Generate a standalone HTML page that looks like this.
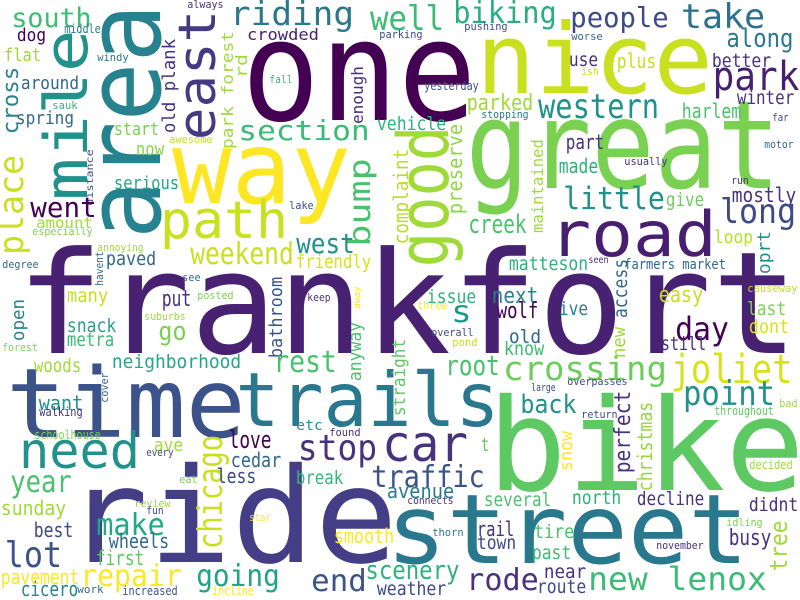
<!DOCTYPE html>
<html><head><meta charset="utf-8"><style>
html,body{margin:0;padding:0;background:#fff;}
svg{display:block;}
text{font-family:"DejaVu Sans Mono","Liberation Mono",monospace;}
</style></head><body>
<svg id="cloud" width="800" height="600" viewBox="0 0 800 600" xmlns="http://www.w3.org/2000/svg">
<rect width="800" height="600" fill="#ffffff"/>
</svg>
<script>
// [text, x, baselineY, fontSize, width, color, vertical]
const words = [
["frankfort",25,353,142,765,"#482173",0],
["one",250,120,140,218,"#440154",0],
["nice",482,93,97,225,"#c8e020",0],
["great",473,188,122,300,"#7ad151",0],
["way",178,203,100,167,"#fde725",0],
["bike",495,490,128,302,"#5ec962",0],
["ride",73,562,132,317,"#433e85",0],
["street",392,563,96,351,"#2a788e",0],
["time",12,437,96,228,"#3b528b",0],
["trails",240,426,75,255,"#2a788e",0],
["road",553,256,62,160,"#481f70",0],
["path",163,238,52,122,"#c8e020",0],
["area",160,233,104,223,"#26828e",1],
["mile",87,197,60,164,"#21918c",1],
["east",215,137,52,124,"#443983",1],
["good",448,263,70,133,"#a0da39",1],
["car",385,461,50,80,"#46327e",0],
["need",22,468,50,115,"#21918c",0],
["stop",300,460,36,75,"#46327e",0],
["south",13,27,27,77,"#3dbc74",0],
["dog",18,41,18,27,"#440154",0],
["middle",65,33,12,35,"#2a788e",0],
["always",188,8,11,35,"#46327e",0],
["flat",5,61,18,35,"#a0da39",0],
["windy",98,61,11,30,"#2a788e",0],
["cross",18,133,22,65,"#26828e",1],
["place",23,253,34,96,"#c8e020",1],
["around",22,89,18,56,"#31688e",0],
["sauk",53,109,11,24,"#35b779",0],
["spring",17,124,18,56,"#31688e",0],
["start",115,135,18,43,"#7ad151",0],
["now",137,155,18,26,"#86d549",0],
["awesome",170,143,11,42,"#c8e020",0],
["serious",115,189,18,63,"#22a884",0],
["distance",93,205,10,55,"#3e4989",1],
["old plank",175,132,18,92,"#46327e",1],
["park forest",233,148,16,116,"#a0da39",1],
["rd",247,77,16,22,"#a0da39",1],
["riding",232,25,33,120,"#2a788e",0],
["crowded",248,40,16,70,"#482173",0],
["well",372,30,34,70,"#3cbb75",0],
["biking",455,23,30,100,"#29af7f",0],
["pushing",465,30,11,42,"#3e4989",0],
["parking",380,38,11,42,"#3e4989",0],
["fall",270,83,11,22,"#35b779",0],
["enough",363,123,16,56,"#46327e",1],
["yesterday",425,90,12,53,"#3b528b",0],
["parked",468,110,22,64,"#a0da39",0],
["stopping",482,118,11,46,"#2a788e",0],
["section",240,140,28,128,"#3cbb75",0],
["vehicle",378,130,19,67,"#2db27d",0],
["bump",370,245,30,85,"#4ac16d",1],
["complaint",408,243,20,93,"#b8de29",1],
["preserve",462,213,20,88,"#8fd744",1],
["maintained",543,232,16,92,"#a0da39",1],
["went",32,217,28,63,"#440154",0],
["amount",37,228,15,55,"#a0da39",0],
["especially",33,235,11,59,"#7ad151",0],
["annoying",98,251,11,45,"#a0da39",0],
["weekend",192,264,30,100,"#c8e020",0],
["friendly",297,268,19,73,"#d8e219",0],
["west",298,253,28,55,"#21918c",0],
["lake",290,209,11,23,"#3e4989",0],
["creek",470,233,26,55,"#4ac16d",0],
["degree",3,268,11,35,"#31688e",0],
["havent",103,285,11,33,"#31688e",1],
["paved",107,265,19,48,"#31688e",0],
["see",183,281,11,17,"#31688e",0],
["posted",198,299,11,35,"#7ad151",0],
["many",68,302,19,39,"#c8e020",0],
["open",24,340,18,40,"#26828e",1],
["put",163,306,22,27,"#46327e",0],
["suburbs",145,320,11,40,"#a0da39",0],
["snack",68,332,19,47,"#2a9d8f",0],
["go",160,340,26,25,"#7ad151",0],
["metra",68,346,19,45,"#3cbb75",0],
["forest",3,351,11,34,"#7ad151",0],
["neighborhood",113,368,19,127,"#26a784",0],
["woods",35,372,19,45,"#a0da39",0],
["cover",108,402,11,29,"#31688e",1],
["bathroom",282,357,18,79,"#39568c",1],
["rest",275,372,30,60,"#4ac16d",0],
["anyway",361,380,18,57,"#4ac16d",1],
["keep",308,301,11,22,"#46327e",0],
["away",360,308,10,21,"#fde725",1],
["three",418,309,11,29,"#fde725",0],
["straight",405,415,18,75,"#5ec962",1],
["issue",428,303,19,47,"#2db27d",0],
["s",453,322,30,17,"#1f988b",0],
["overall",432,336,11,41,"#3e4989",0],
["pond",453,346,11,24,"#c2df23",0],
["crossing",505,380,33,160,"#6ccd5a",0],
["root",447,375,28,51,"#4ac16d",0],
["next",493,303,22,44,"#26828e",0],
["wolf",498,318,22,39,"#440154",0],
["old",510,343,19,30,"#31688e",0],
["know",505,355,19,38,"#3cbb75",0],
["matteson",510,270,19,77,"#2db27d",0],
["little",565,209,31,98,"#21918c",0],
["give",667,206,19,36,"#6ccd5a",0],
["mostly",733,202,20,62,"#46327e",0],
["long",722,223,34,72,"#3e4989",0],
["loop",715,243,18,37,"#b8de29",0],
["oprt",770,273,18,41,"#21918c",1],
["seen",589,263,10,19,"#46327e",0],
["farmers market",625,269,14,100,"#31688e",0],
["access",627,317,19,57,"#31688e",1],
["causeway",748,292,11,49,"#c2df23",0],
["easy",660,302,22,42,"#c8e020",0],
["ive",560,315,19,27,"#26828e",0],
["last",748,315,19,37,"#7ad151",0],
["dont",750,333,19,38,"#d8e219",0],
["day",677,340,32,50,"#440154",0],
["new",625,357,18,29,"#a0da39",1],
["still",662,350,19,43,"#46327e",0],
["joliet",673,383,40,117,"#d8e219",0],
["overpasses",568,385,11,59,"#3e4989",0],
["large",532,391,11,23,"#3e4989",0],
["point",685,405,34,88,"#21918c",0],
["back",522,413,26,53,"#21918c",0],
["perfect",630,472,22,80,"#46327e",1],
["christmas",652,490,20,87,"#95d840",1],
["snow",572,470,18,38,"#fde725",1],
["return",582,418,11,35,"#3e4989",0],
["throughout",715,415,12,58,"#5ec962",0],
["bad",780,407,11,17,"#a0da39",0],
["decided",750,469,12,42,"#a0da39",0],
["several",485,506,19,65,"#4ac16d",0],
["north",573,504,19,47,"#2db27d",0],
["decline",638,505,19,65,"#46327e",0],
["didnt",750,511,19,47,"#46327e",0],
["idling",727,526,11,35,"#7ad151",0],
["tree",787,570,24,48,"#a0da39",1],
["busy",730,545,22,40,"#46327e",0],
["tire",535,538,19,38,"#4ac16d",0],
["november",657,549,11,46,"#46327e",0],
["past",533,559,19,37,"#3cbb75",0],
["near",545,578,19,40,"#46327e",0],
["route",538,593,19,47,"#3e4989",0],
["new lenox",590,590,32,175,"#3cbb75",0],
["etc",297,430,14,25,"#21918c",0],
["found",330,436,11,30,"#46327e",0],
["t",482,451,19,6,"#5ec962",0],
["traffic",373,487,30,110,"#3b528b",0],
["break",297,484,19,45,"#35b779",0],
["avenue",388,498,20,65,"#2a788e",0],
["connects",408,504,11,45,"#46327e",0],
["smooth",335,543,20,58,"#fde725",0],
["thorn",433,536,11,30,"#2a788e",0],
["rail",478,536,20,35,"#46327e",0],
["town",478,549,19,37,"#3e4989",0],
["end",313,591,30,52,"#3b528b",0],
["scenery",367,579,26,91,"#2db27d",0],
["rode",468,590,30,69,"#46327e",0],
["weather",378,595,19,67,"#3e4989",0],
["want",40,410,20,42,"#21918c",0],
["walking",40,416,12,42,"#46327e",0],
["schoolhouse",35,439,12,65,"#7ad151",0],
["chicago",222,547,34,110,"#c8e020",1],
["ave",155,451,18,27,"#a0da39",0],
["every",147,456,11,26,"#3e4989",0],
["love",230,448,24,40,"#440154",0],
["cedar",232,467,20,48,"#31688e",0],
["less",218,483,20,37,"#3e4989",0],
["eat",180,483,11,17,"#7ad151",0],
["year",12,492,30,58,"#4ac16d",0],
["sunday",2,515,20,63,"#a0da39",0],
["review",135,507,11,35,"#a0da39",0],
["fun",147,514,11,16,"#3e4989",0],
["star",250,521,11,20,"#fde725",0],
["make",98,535,30,65,"#23a884",0],
["best",35,537,20,37,"#3e4989",0],
["wheels",110,548,20,58,"#31688e",0],
["lot",7,567,36,53,"#3b528b",0],
["first",97,565,20,46,"#5ec962",0],
["repair",82,586,30,98,"#fde725",0],
["pavement",2,584,20,76,"#fde725",0],
["going",198,586,30,80,"#20a386",0],
["cicero",22,596,20,55,"#26828e",0],
["work",78,593,11,25,"#31688e",0],
["increased",123,595,12,54,"#3b528b",0],
["incline",213,595,12,40,"#fde725",0],
["people",572,27,28,95,"#3e4989",0],
["take",683,28,34,80,"#2c728e",0],
["along",728,47,26,64,"#2a788e",0],
["worse",572,40,11,30,"#31688e",0],
["use",570,66,19,27,"#46327e",0],
["ish",582,75,11,16,"#c8e020",0],
["plus",618,68,20,37,"#c8e020",0],
["better",713,67,19,57,"#46327e",0],
["park",715,90,40,82,"#481f70",0],
["western",540,118,34,117,"#21918c",0],
["winter",738,104,19,55,"#46327e",0],
["harlem",683,118,20,57,"#4ac16d",0],
["far",773,121,11,15,"#3e4989",0],
["part",567,149,20,36,"#46327e",0],
["motor",765,148,11,28,"#31688e",0],
["made",560,173,20,37,"#2db27d",0],
["usually",625,165,11,42,"#46327e",0],
["run",732,184,11,16,"#46327e",0]
];
const svg = document.getElementById('cloud');
const NS = 'http://www.w3.org/2000/svg';
for (const w of words) {
  const [txt, x, y, s, wd, col, vert] = w;
  const t = document.createElementNS(NS, 'text');
  
  
  t.setAttribute('font-size', s);
  t.setAttribute('fill', col);
  t.setAttribute('textLength', (wd + 0.12 * s).toFixed(1));
  t.setAttribute('lengthAdjust', 'spacingAndGlyphs');
  if (vert) {
    t.setAttribute('x', (-0.06 * s).toFixed(1));
    t.setAttribute('y', 0);
    t.setAttribute('transform', 'translate(' + x + ',' + y + ') rotate(-90)');
  } else {
    t.setAttribute('x', (x - 0.06 * s).toFixed(1));
    t.setAttribute('y', y);
  }
  t.textContent = txt;
  svg.appendChild(t);
}
</script>
</body></html>
